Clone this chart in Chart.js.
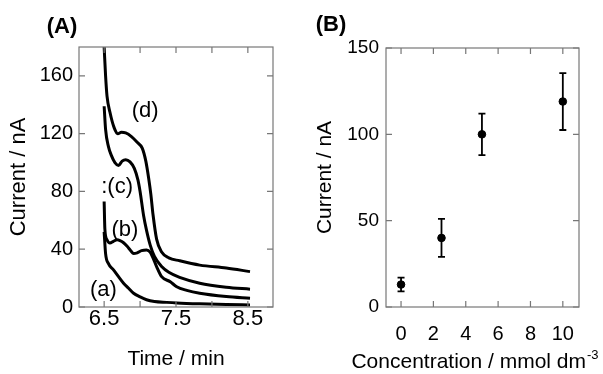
<!DOCTYPE html>
<html>
<head>
<meta charset="utf-8">
<script src="https://cdn.jsdelivr.net/npm/chart.js@4"></script>
<style>
  body { margin: 0; background: #fff; }
  .wrap { position: relative; width: 603px; height: 374px; }
  .wrap canvas { position: absolute; top: 0; }
</style>
</head>
<body>
<div class="wrap">
  <canvas id="chartA" style="left:0px;"></canvas>
  <canvas id="chartB" style="left:290px;"></canvas>
</div>
<script>
// (A) current transients
const timeD = [6.5, 6.52, 6.54, 6.58, 6.64, 6.69, 6.74, 6.80, 6.88, 6.96, 7.03, 7.08, 7.12, 7.15, 7.18, 7.23, 7.30, 7.40, 7.55, 7.83, 8.2, 8.53];
const currD = [180, 160, 146, 135, 124, 120, 121, 120.5, 118, 114, 110, 101, 89, 78, 64, 47, 38, 34, 32, 29, 27, 24.5];
const timeC = [6.5, 6.52, 6.56, 6.60, 6.65, 6.70, 6.75, 6.80, 6.86, 6.92, 6.97, 7.00, 7.05, 7.09, 7.14, 7.20, 7.30, 7.40, 7.55, 7.83, 8.2, 8.53];
const currC = [139, 123, 111, 105, 100, 98, 101, 102, 100.5, 96, 88, 80, 63, 53, 43, 35, 28, 24, 20.5, 16.5, 13.7, 12.3];
const timeB = [6.5, 6.51, 6.54, 6.58, 6.63, 6.68, 6.72, 6.77, 6.82, 6.87, 6.91, 6.96, 7.02, 7.09, 7.14, 7.18, 7.23, 7.30, 7.42, 7.51, 7.65, 7.83, 8.2, 8.53];
const currB = [73, 54, 46.5, 44.3, 45.5, 46.5, 46, 44.5, 42, 39, 37, 37.5, 39, 39.5, 38, 34, 28, 21, 17.5, 14, 11.5, 9.5, 7.2, 6];
const timeA = [6.5, 6.52, 6.56, 6.63, 6.70, 6.77, 6.84, 6.91, 7.0, 7.09, 7.2, 7.37, 7.51, 7.83, 8.2, 8.53];
const currA = [52, 37, 30, 25.7, 21, 16.5, 13, 9.5, 7, 5, 3.8, 3.2, 2.8, 2.2, 1.7, 1.4];
const xTicksA = [6.5, 7, 7.5, 8, 8.5];
const xLabelsA = [6.5, 7.5, 8.5];
const yTicksA = [0, 40, 80, 120, 160];
const curveLabels = ['(a)', '(b)', ':(c)', '(d)'];

// (B) calibration
const conc = [0, 2.5, 5, 10];
const current = [13, 40, 100, 119];
const currentErr = [4, 11, 12, 16.5];
const xTicksB = [0, 2, 4, 6, 8, 10];
const yTicksB = [0, 50, 100, 150];

const FONT = "'Liberation Sans', Arial, sans-serif";

function pts(xs, ys) {
  return xs.map((x, i) => ({ x: x, y: ys[i] }));
}

// box with inward ticks on all sides
const frameTicks = {
  id: 'frameTicks',
  afterDatasetsDraw(chart) {
    const { ctx, chartArea: a, scales: { x, y } } = chart;
    ctx.save();
    ctx.strokeStyle = '#777';
    ctx.lineWidth = 1.2;
    ctx.strokeRect(a.left, a.top, a.right - a.left, a.bottom - a.top);
    ctx.beginPath();
    x.ticks.forEach(t => {
      const px = x.getPixelForValue(t.value);
      ctx.moveTo(px, a.bottom); ctx.lineTo(px, a.bottom - 6);
      ctx.moveTo(px, a.top); ctx.lineTo(px, a.top + 6);
    });
    y.ticks.forEach(t => {
      const py = y.getPixelForValue(t.value);
      ctx.moveTo(a.left, py); ctx.lineTo(a.left + 6, py);
      ctx.moveTo(a.right, py); ctx.lineTo(a.right - 6, py);
    });
    ctx.stroke();
    ctx.restore();
  }
};

const panelLabel = {
  id: 'panelLabel',
  afterDraw(chart, args, opts) {
    const ctx = chart.ctx;
    ctx.save();
    ctx.fillStyle = '#000';
    ctx.font = 'bold 22px ' + FONT;
    ctx.textAlign = 'center';
    ctx.textBaseline = 'middle';
    ctx.fillText(opts.text, opts.x, opts.y);
    ctx.restore();
  }
};

// curve labels in panel A, placed in data coordinates
const labelPos = [[6.49, 12], [6.79, 53.5], [6.68, 83], [7.07, 136]];
const curveText = {
  id: 'curveText',
  afterDatasetsDraw(chart) {
    const { ctx, scales: { x, y } } = chart;
    ctx.save();
    ctx.fillStyle = '#000';
    ctx.font = '22px ' + FONT;
    ctx.textAlign = 'center';
    ctx.textBaseline = 'middle';
    curveLabels.forEach((s, i) => {
      ctx.fillText(s, x.getPixelForValue(labelPos[i][0]), y.getPixelForValue(labelPos[i][1]));
    });
    ctx.restore();
  }
};

const errorBars = {
  id: 'errorBars',
  afterDatasetsDraw(chart) {
    const { ctx, scales: { x, y } } = chart;
    ctx.save();
    ctx.strokeStyle = '#000';
    ctx.lineWidth = 1.8;
    ctx.beginPath();
    conc.forEach((c, i) => {
      const px = x.getPixelForValue(c);
      const hi = y.getPixelForValue(current[i] + currentErr[i]);
      const lo = y.getPixelForValue(current[i] - currentErr[i]);
      ctx.moveTo(px, hi); ctx.lineTo(px, lo);
      ctx.moveTo(px - 3.5, hi); ctx.lineTo(px + 3.5, hi);
      ctx.moveTo(px - 3.5, lo); ctx.lineTo(px + 3.5, lo);
    });
    ctx.stroke();
    ctx.restore();
  }
};

// x title of B with superscript
const concTitle = {
  id: 'concTitle',
  afterDraw(chart) {
    const ctx = chart.ctx;
    const a = chart.chartArea;
    const main = 'Concentration / mmol dm';
    const sup = '-3';
    ctx.save();
    ctx.fillStyle = '#000';
    ctx.textBaseline = 'alphabetic';
    ctx.font = '21px ' + FONT;
    const w1 = ctx.measureText(main).width;
    ctx.font = '13px ' + FONT;
    const w2 = ctx.measureText(sup).width;
    const x0 = (a.left + a.right) / 2 - 8 - (w1 + w2) / 2;
    ctx.font = '21px ' + FONT;
    ctx.fillText(main, x0, 368);
    ctx.font = '13px ' + FONT;
    ctx.fillText(sup, x0 + w1 + 1, 359);
    ctx.restore();
  }
};

function setTicks(arr) {
  return scale => { scale.ticks = arr.map(v => ({ value: v })); };
}

const curveStyle = { borderColor: '#000', borderWidth: 3, pointRadius: 0, fill: false, cubicInterpolationMode: 'monotone' };

const cA = document.getElementById('chartA');
cA.width = 290; cA.height = 374;
new Chart(cA, {
  type: 'line',
  data: {
    datasets: [
      Object.assign({ data: pts(timeA, currA) }, curveStyle),
      Object.assign({ data: pts(timeB, currB) }, curveStyle),
      Object.assign({ data: pts(timeC, currC) }, curveStyle),
      Object.assign({ data: pts(timeD, currD) }, curveStyle)
    ]
  },
  options: {
    responsive: false,
    animation: false,
    layout: { padding: { top: 47, right: 17, left: 0, bottom: 0 } },
    plugins: {
      legend: { display: false },
      tooltip: { enabled: false },
      panelLabel: { text: '(A)', x: 62, y: 27 }
    },
    scales: {
      x: {
        type: 'linear',
        min: 6.15, max: 8.85,
        afterBuildTicks: setTicks(xTicksA),
        afterFit: s => { s.height = 67; },
        grid: { display: false, drawTicks: false },
        border: { display: false },
        ticks: {
          color: '#000', padding: -1,
          font: { family: FONT, size: 22 },
          callback: v => xLabelsA.includes(v) ? v.toFixed(1) : ''
        },
        title: { display: true, text: 'Time / min', color: '#000', font: { family: FONT, size: 21 }, padding: { top: 0, bottom: 2 } }
      },
      y: {
        min: 0, max: 180,
        afterBuildTicks: setTicks(yTicksA),
        afterFit: s => { s.width = 79; },
        grid: { display: false, drawTicks: false },
        border: { display: false },
        ticks: { color: '#000', padding: 6, font: { family: FONT, size: 20 } },
        title: { display: true, text: 'Current / nA', color: '#000', font: { family: FONT, size: 22 }, padding: { top: 6, bottom: 0 } }
      }
    }
  },
  plugins: [frameTicks, panelLabel, curveText]
});

const cB = document.getElementById('chartB');
cB.width = 313; cB.height = 374;
new Chart(cB, {
  type: 'scatter',
  data: {
    datasets: [{
      data: pts(conc, current),
      backgroundColor: '#000',
      borderColor: '#000',
      pointRadius: 3.8
    }]
  },
  options: {
    responsive: false,
    animation: false,
    layout: { padding: { top: 48, right: 24, left: 0, bottom: 0 } },
    plugins: {
      legend: { display: false },
      tooltip: { enabled: false },
      panelLabel: { text: '(B)', x: 41, y: 25 }
    },
    scales: {
      x: {
        type: 'linear',
        min: -0.93, max: 11,
        afterBuildTicks: setTicks(xTicksB),
        afterFit: s => { s.height = 67; },
        grid: { display: false, drawTicks: false },
        border: { display: false },
        ticks: { color: '#000', padding: 15, font: { family: FONT, size: 20 } }
      },
      y: {
        min: 0, max: 150,
        afterBuildTicks: setTicks(yTicksB),
        afterFit: s => { s.width = 96; },
        grid: { display: false, drawTicks: false },
        border: { display: false },
        ticks: { color: '#000', padding: 7, font: { family: FONT, size: 19 } },
        title: { display: true, text: 'Current / nA', color: '#000', font: { family: FONT, size: 21 }, padding: { top: 23, bottom: 0 } }
      }
    }
  },
  plugins: [frameTicks, panelLabel, errorBars, concTitle]
});
</script>
</body>
</html>
